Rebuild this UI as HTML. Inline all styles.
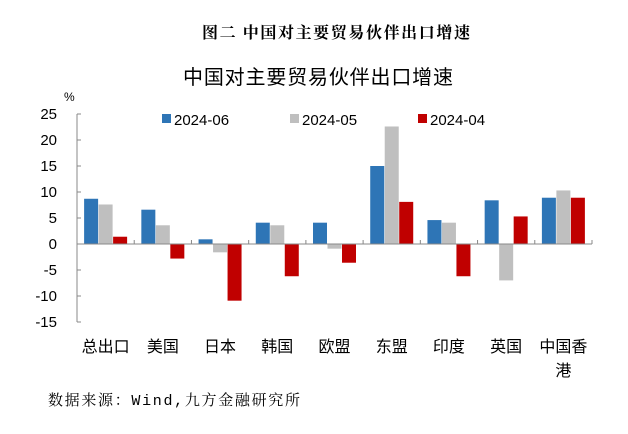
<!DOCTYPE html>
<html><head><meta charset="utf-8"><style>
body{margin:0;background:#fff;width:628px;height:434px;overflow:hidden}
svg{display:block}
</style></head><body>
<svg id="c" width="628" height="434" xmlns="http://www.w3.org/2000/svg">
<text x="202" y="38" textLength="268" lengthAdjust="spacing" font-family="Liberation Serif, Noto Serif CJK SC, serif" font-size="16" font-weight="bold">图二  中国对主要贸易伙伴出口增速</text>
<text x="183" y="84" textLength="270" lengthAdjust="spacing" font-family="Liberation Sans, Noto Sans CJK SC, sans-serif" font-size="20">中国对主要贸易伙伴出口增速</text>
<text x="64" y="101" font-family="Liberation Sans, Noto Sans CJK SC, sans-serif" font-size="12">%</text>
<text x="48" y="405" textLength="252" lengthAdjust="spacing" font-family="Liberation Mono, Noto Serif CJK SC, serif" font-size="15">数据来源：Wind,九方金融研究所</text>
<g id="plot"></g>
</svg>
<script>
const categories=["总出口","美国","日本","韩国","欧盟","东盟","印度","英国","中国香港"];
const series06=[8.7,6.6,0.9,4.1,4.1,15.0,4.6,8.4,8.9];
const series05=[7.6,3.6,-1.6,3.6,-0.9,22.6,4.1,-7.0,10.3];
const series04=[1.4,-2.8,-10.9,-6.2,-3.6,8.1,-6.2,5.3,8.9];
const yTicks=[25,20,15,10,5,0,-5,-10,-15];
const seriesNames=["2024-06","2024-05","2024-04"];
const NS="http://www.w3.org/2000/svg";
const g=document.getElementById('plot');
const x0=77,x1=592,yTop=114,yBot=322,yMax=25,yMin=-15;
const y=v=>yTop+(yMax-v)*(yBot-yTop)/(yMax-yMin);
const bw=(x1-x0)/categories.length;
function mk(t,a){const e=document.createElementNS(NS,t);for(const k in a)e.setAttribute(k,a[k]);g.appendChild(e);return e;}
const font="Liberation Sans, Noto Sans CJK SC, sans-serif";
let ax=mk('line',{x1:x0,y1:yTop,x2:x0,y2:yBot,stroke:'#888','stroke-width':1});


yTicks.forEach(t=>{
 let l=mk('line',{x1:x0,y1:y(t),x2:x0+4,y2:y(t),stroke:'#888'});
 
 
 let tx=mk('text',{x:57,y:y(t)+5,'text-anchor':'end','font-family':font,'font-size':15});
 tx.textContent=t;
 
 
});
const colors=['#2e75b6','#bfbfbf','#c00000'];
const data=[series06,series05,series04];
const barW=14;
categories.forEach((c,i)=>{
 const cx=x0+bw*(i+0.5);
 data.forEach((s,j)=>{
  const v=s[i];const bx=cx-1.5*barW+j*barW+(j-1)*0.5;
  const r=mk('rect',{x:bx,y:Math.min(y(v),y(0)),width:barW,height:Math.abs(y(v)-y(0)),fill:colors[j]});
  
  
 });
 const lines=c.length>3?[c.slice(0,3),c.slice(3)]:[c];
 lines.forEach((ln,k)=>{
  const t=mk('text',{x:cx,y:352+k*24,'text-anchor':'middle','font-family':font,'font-size':16});
  t.textContent=ln;
  
  
 });
 if(i>0){const tk=mk('line',{x1:x0+bw*i,y1:y(0),x2:x0+bw*i,y2:y(0)-4,stroke:'#888'});
 
 }
});
const tk=mk('line',{x1:x1,y1:y(0),x2:x1,y2:y(0)-4,stroke:'#888'});


const zl=mk('line',{x1:x0,y1:y(0),x2:x1,y2:y(0),stroke:'#888','stroke-width':1});


const lx=[162,290,418];
seriesNames.forEach((n,j)=>{
 const r=mk('rect',{x:lx[j],y:114,width:9,height:9,fill:colors[j]});
 
 
 const t=mk('text',{x:lx[j]+12,y:125,'font-family':font,'font-size':15});
 t.textContent=n;
 
 
});
</script>
</body></html>
